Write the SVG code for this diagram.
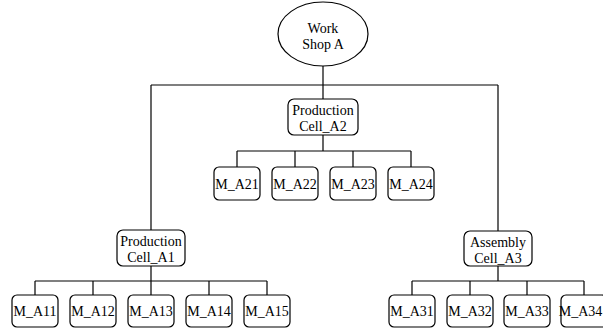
<svg xmlns="http://www.w3.org/2000/svg" width="603" height="329" viewBox="0 0 603 329">
<style>
.box{fill:#fff;stroke:#000;stroke-width:1.2}
.ln{fill:none;stroke:#000;stroke-width:1.2}
text{font-family:"Liberation Serif","Times New Roman",serif;font-size:14px;fill:#000;text-anchor:middle}
</style>
<rect width="603" height="329" fill="#fff"/>
<g id="connectors" class="ln">
<path d="M323 66V99"/>
<path d="M151 85H498"/>
<path d="M151 85V230"/>
<path d="M498 85V231"/>
<path d="M323 135V151M237 151H411M237 151V167M295 151V167M353 151V167M411 151V167"/>
<path d="M151 266V281M35 281H267M35 281V295M93 281V295M151 281V295M209 281V295M267 281V295"/>
<path d="M498 266V281M412 281H584M412 281V295M470 281V295M527 281V295M584 281V295"/>
</g>
<g id="workshop">
<ellipse class="box" cx="323" cy="34" rx="45" ry="32"/>
<text x="323" y="33">Work</text>
<text x="323" y="49">Shop A</text>
</g>
<g id="cellA2">
<rect class="box" x="288" y="99" width="70" height="36" rx="6"/>
<text x="323" y="115">Production</text>
<text x="323" y="131">Cell_A2</text>
</g>
<g id="cellA1">
<rect class="box" x="117" y="230" width="68" height="36" rx="6"/>
<text x="151" y="246">Production</text>
<text x="151" y="262">Cell_A1</text>
</g>
<g id="cellA3">
<rect class="box" x="464" y="231" width="68" height="35" rx="6"/>
<text x="498" y="247">Assembly</text>
<text x="498" y="263">Cell_A3</text>
</g>
<g id="mA21"><rect class="box" x="214" y="167" width="46" height="33" rx="5"/><text x="237" y="189">M_A21</text></g>
<g id="mA22"><rect class="box" x="272" y="167" width="46" height="33" rx="5"/><text x="295" y="189">M_A22</text></g>
<g id="mA23"><rect class="box" x="330" y="167" width="46" height="33" rx="5"/><text x="353" y="189">M_A23</text></g>
<g id="mA24"><rect class="box" x="388" y="167" width="46" height="33" rx="5"/><text x="411" y="189">M_A24</text></g>
<g id="mA11"><rect class="box" x="12" y="295" width="46" height="32" rx="5"/><text x="35" y="316">M_A11</text></g>
<g id="mA12"><rect class="box" x="70" y="295" width="46" height="32" rx="5"/><text x="93" y="316">M_A12</text></g>
<g id="mA13"><rect class="box" x="128" y="295" width="46" height="32" rx="5"/><text x="151" y="316">M_A13</text></g>
<g id="mA14"><rect class="box" x="186" y="295" width="46" height="32" rx="5"/><text x="209" y="316">M_A14</text></g>
<g id="mA15"><rect class="box" x="244" y="295" width="46" height="32" rx="5"/><text x="267" y="316">M_A15</text></g>
<g id="mA31"><rect class="box" x="389" y="295" width="46" height="32" rx="5"/><text x="412" y="316">M_A31</text></g>
<g id="mA32"><rect class="box" x="447" y="295" width="46" height="32" rx="5"/><text x="470" y="316">M_A32</text></g>
<g id="mA33"><rect class="box" x="504" y="295" width="46" height="32" rx="5"/><text x="527" y="316">M_A33</text></g>
<g id="mA34"><rect class="box" x="561" y="295" width="46" height="32" rx="5"/><text x="580.5" y="316">M_A34</text></g>
</svg>
